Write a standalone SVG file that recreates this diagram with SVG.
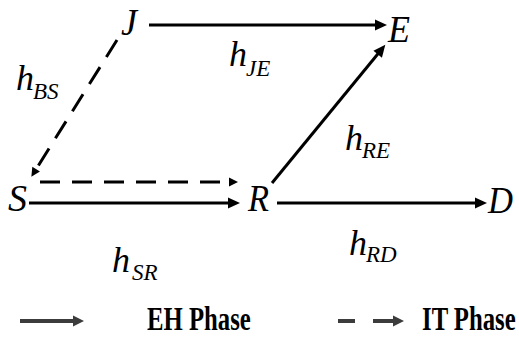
<svg xmlns="http://www.w3.org/2000/svg" width="519" height="337" viewBox="0 0 519 337">
<style>
.node{font-family:'Liberation Serif','DejaVu Serif',serif;font-style:italic;font-size:38px;fill:#000}
.h{font-family:'Liberation Serif','DejaVu Serif',serif;font-style:italic;font-size:36px;fill:#000}
.sub{font-size:23px}
.leg{font-family:'Liberation Serif','DejaVu Serif',serif;font-weight:bold;font-size:33px;fill:#000}
.solid{stroke:#000;stroke-width:3;fill:none}
.dash{stroke:#000;stroke-width:3;fill:none;stroke-dasharray:20 12}
.lsolid{stroke:#3c3c3c;stroke-width:4;fill:none}
.ldash{stroke:#3c3c3c;stroke-width:4;fill:none}
</style>
<defs>
<marker id="ah" markerUnits="userSpaceOnUse" markerWidth="12" markerHeight="11" refX="6" refY="5.5" orient="auto" overflow="visible">
<path d="M0,0 L12,5.5 L0,11 z" fill="#000"/>
</marker>
<marker id="ahs" markerUnits="userSpaceOnUse" markerWidth="9" markerHeight="9" refX="4" refY="4.5" orient="auto" overflow="visible">
<path d="M0,0 L9,4.5 L0,9 z" fill="#000"/>
</marker>
<marker id="ahl" markerUnits="userSpaceOnUse" markerWidth="11" markerHeight="11" refX="5" refY="5.5" orient="auto" overflow="visible">
<path d="M0,0 L11,5.5 L0,11 z" fill="#3c3c3c"/>
</marker>
</defs>

<g id="connectors">
<line class="solid" x1="149" y1="25" x2="381" y2="25" marker-end="url(#ah)"/>
<line class="solid" x1="272" y1="183" x2="381.5" y2="49.5" marker-end="url(#ah)"/>
<line class="solid" x1="29" y1="203" x2="234" y2="203" marker-end="url(#ah)"/>
<line class="solid" x1="277" y1="203" x2="481" y2="203" marker-end="url(#ah)"/>
<line class="dash" x1="40" y1="182" x2="233" y2="182" marker-end="url(#ahs)"/>
<line class="dash" x1="117" y1="40" x2="34" y2="172.5" marker-end="url(#ahs)"/>
</g>

<g id="node-J"><text class="node" x="121" y="35" textLength="16" lengthAdjust="spacingAndGlyphs">J</text></g>
<g id="node-E"><text class="node" x="388" y="42" textLength="22" lengthAdjust="spacingAndGlyphs">E</text></g>
<g id="node-S"><text class="node" x="8" y="211" textLength="19" lengthAdjust="spacingAndGlyphs">S</text></g>
<g id="node-R"><text class="node" x="248" y="211" textLength="21" lengthAdjust="spacingAndGlyphs">R</text></g>
<g id="node-D"><text class="node" x="488" y="213" textLength="25" lengthAdjust="spacingAndGlyphs">D</text></g>

<g id="labels">
<text class="h" x="16" y="90">h<tspan class="sub" x="33" y="99">BS</tspan></text>
<text class="h" x="229" y="66">h<tspan class="sub" x="246" y="76">JE</tspan></text>
<text class="h" x="345" y="150">h<tspan class="sub" x="362" y="158">RE</tspan></text>
<text class="h" x="349" y="255">h<tspan class="sub" x="366" y="262">RD</tspan></text>
<text class="h" x="112" y="272">h<tspan class="sub" x="132" y="280">SR</tspan></text>
</g>

<g id="legend">
<line class="lsolid" x1="20" y1="321" x2="78" y2="321" marker-end="url(#ahl)"/>
<text class="leg" transform="translate(147,330) scale(0.75,1)" x="0" y="0">EH Phase</text>
<line class="ldash" x1="338" y1="321" x2="355" y2="321"/>
<line class="ldash" x1="373" y1="321" x2="398" y2="321" marker-end="url(#ahl)"/>
<text class="leg" transform="translate(422,330) scale(0.75,1)" x="0" y="0">IT Phase</text>
</g>
</svg>
